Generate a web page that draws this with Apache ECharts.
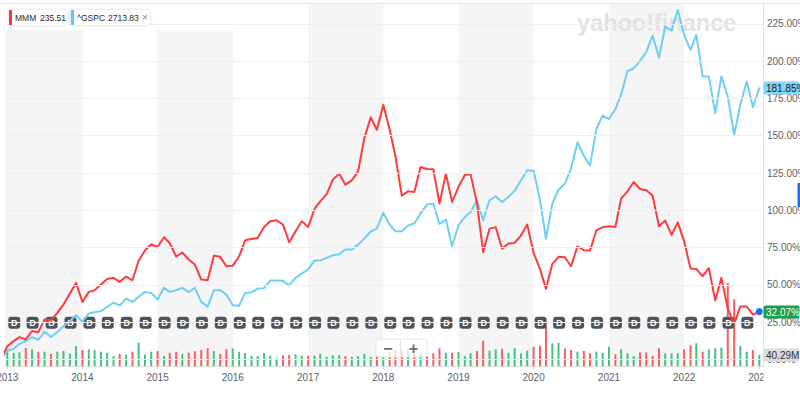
<!DOCTYPE html>
<html><head><meta charset="utf-8">
<script src="https://cdn.jsdelivr.net/npm/echarts@6/dist/echarts.min.js"></script>
<style>html,body{margin:0;padding:0;background:#fff}#c{width:800px;height:393px}</style>
</head><body><div id="c"></div>
<script>
// ---- data (monthly, first entry = base month Dec 2012) ----
const baseYear = 2012, baseMonth = 12;
const mmmPct = [0,
8.9,12.3,15.0,13.4,19.0,18.3,26.8,26.3,31.2,36.8,44.2,51.3,
38.6,45.3,46.4,50.2,54.0,54.7,52.0,55.6,53.1,66.3,73.0,77.2,
75.4,81.9,77.9,69.0,71.7,67.0,63.6,53.6,53.1,69.6,68.8,62.5,
62.9,69.2,79.9,80.8,81.5,88.8,92.6,93.3,90.4,78.6,85.9,92.6,
88.8,100.9,106.0,110.9,120.5,124.6,117.2,120.1,126.1,148.5,162.3,154.0,
170.8,154.0,136.2,109.8,112.7,112.3,129.0,127.7,127.5,104.5,124.6,105.6,
115.6,123.7,124.1,104.9,71.9,87.7,88.6,74.3,77.7,78.1,83.2,90.4,
71.4,60.7,47.3,64.1,68.8,68.5,62.5,75.9,73.2,73.0,86.6,88.6,
89.3,88.8,107.8,112.7,119.0,114.3,113.4,109.8,89.3,93.1,83.5,91.9,
79.2,60.9,60.7,55.8,61.2,39.5,54.7,34.0,24.0,35.5,35.5,30.0,
32.07];
const gspcPct = [0,
5.8,7.1,10.5,12.3,15.0,13.2,18.5,15.0,18.3,22.3,25.7,29.7,
25.2,30.8,31.7,32.4,35.3,38.0,36.2,40.8,38.6,42.0,45.3,44.6,
40.2,48.0,45.3,46.4,48.0,45.1,48.0,38.6,35.3,46.4,46.4,43.5,
36.4,36.0,44.6,45.1,47.5,47.8,52.9,52.9,52.7,49.6,54.7,57.6,
60.3,66.3,66.3,68.1,69.8,70.5,73.7,73.7,77.0,81.0,85.9,87.7,
98.4,90.4,85.9,85.9,89.9,91.1,97.8,103.8,104.5,90.9,93.8,75.9,
89.9,95.5,98.9,106.5,93.3,106.7,109.4,105.6,108.9,113.2,120.1,126.8,
126.6,107.1,81.0,104.5,113.8,117.9,128.0,145.5,136.6,130.1,154.5,163.4,
161.2,167.9,177.5,193.5,195.1,200.2,206.0,217.2,202.4,223.2,220.5,234.4,
217.6,207.6,217.6,189.7,189.7,165.2,189.7,176.3,150.7,170.8,186.4,169.2,
181.85];
// volume in millions, Jan 2013 .. Jan 2023
const volumeM = [61.1,48.7,50.1,65.9,61.1,52.3,52.3,43.9,52.3,54.9,45.0,73.2,
58.6,61.1,58.6,52.3,48.7,36.6,43.9,41.4,52.3,85.3,41.4,52.3,
54.9,36.6,48.7,52.3,43.9,48.7,54.2,58.6,64.8,54.9,43.9,61.5,
64.1,52.3,47.6,37.3,36.6,47.6,37.3,28.2,38.4,40.3,43.2,37.7,
37.7,37.7,44.7,34.0,38.8,40.3,36.6,34.0,36.6,44.7,34.0,35.5,
32.9,51.2,58.6,62.2,62.2,58.6,46.5,36.6,46.5,64.8,48.7,48.7,
51.2,36.6,46.5,54.9,93.3,56.0,61.1,63.3,48.7,64.8,46.5,56.0,
70.6,74.3,146.4,83.1,85.3,64.8,58.6,52.3,54.9,46.5,52.3,48.7,
70.6,42.8,61.1,46.5,36.6,50.1,50.1,36.6,64.8,46.5,46.5,46.5,
61.1,75.8,83.1,52.3,61.1,64.8,67.0,304.9,244.1,73.2,52.3,58.6,
40.29];
const volumeUp = [1,1,1,0,1,0,1,0,1,1,1,1,
0,1,1,1,1,1,0,1,0,1,1,1,
0,1,0,0,1,0,0,0,0,1,0,0,
1,1,1,1,1,1,1,1,0,0,1,1,
0,1,1,1,1,1,0,1,1,1,1,0,
1,0,0,0,1,0,1,0,0,0,1,0,
1,1,1,0,0,1,1,0,1,1,1,1,
0,0,0,1,1,0,0,1,0,0,1,1,
1,0,1,1,1,0,0,0,0,1,1,1,
0,0,1,0,1,1,1,0,0,1,1,0,
1];
const dividendMonths = ['2013-02','2013-05','2013-08','2013-11','2014-02','2014-05','2014-08','2014-11',
'2015-02','2015-05','2015-08','2015-11','2016-02','2016-05','2016-08','2016-11',
'2017-02','2017-05','2017-08','2017-11','2018-02','2018-05','2018-08','2018-11',
'2019-02','2019-05','2019-08','2019-11','2020-02','2020-05','2020-08','2020-11',
'2021-02','2021-05','2021-08','2021-11','2022-02','2022-05','2022-08','2022-11'];
const yTickValues = [0,25,50,75,100,125,150,175,200,225];
const yearLabels = [2013,2014,2015,2016,2017,2018,2019,2020,2021,2022,2023];
const shadedYears = [2013,2015,2017,2019,2021];
const legendItems = [{name:'MMM', quote:'235.51', color:'#ff333a'},{name:'^GSPC', quote:'2713.83', color:'#5ccbf5'}];
const lastVolumeText = '40.29M';
const dividendLevel = 24.6;

// ---- layout constants ----
const FONT = '"Liberation Sans", Arial, sans-serif';
const axisMin = new Date(2012, 11, 21).getTime();
const axisMax = new Date(2023, 0, 19).getTime();
const monthDate = i => new Date(baseYear, baseMonth - 1 + i, 1).getTime();
const yearTs = yearLabels.map(y => new Date(y, 0, 1).getTime());
const RED = '#ff3b3f', BLUE = '#6dcff6', VG = '#40c47f', VR = '#fb5c60';

const bands = shadedYears.map(y => [
  {xAxis: y === yearLabels[0] ? axisMin : new Date(y,0,1).getTime()},
  {xAxis: new Date(y+1,0,1).getTime()}
]);

const option = {
  animation: false,
  textStyle: {fontFamily: FONT},
  grid: {left: 5, right: 37, top: 3, bottom: 27, containLabel: false, outerBoundsMode: 'none'},
  xAxis: {
    type: 'value', min: axisMin, max: axisMax, scale: true,
    axisLine: {show: true, onZero: false, lineStyle: {color: '#dedede'}},
    axisTick: {show: true, customValues: yearTs, length: 3, lineStyle: {color: '#cfcfcf'}},
    axisLabel: {customValues: yearTs, formatter: v => String(new Date(v).getFullYear()), color: '#5b636a', fontSize: 10, margin: 6, fontFamily: FONT},
    splitLine: {show: false}
  },
  yAxis: [
    {type: 'value', position: 'right', min: -4.4, max: 239,
     axisLine: {show: true, onZero: false, lineStyle: {color: '#e4e4e4'}},
     axisTick: {show: false}, axisLabel: {show: false}, splitLine: {show: false}},
    {type: 'value', min: 0, max: 1330, show: false, splitLine: {show: false}}
  ],
  series: [
    {type: 'line', name: 'bands', data: [], z: 1, silent: true,
     markArea: {silent: true, itemStyle: {color: '#f5f5f5'}, data: bands},
     markLine: {silent: true, symbol: ['none','none'],
       lineStyle: {color: '#efefef', width: 1, type: 'solid'},
       label: {show: true, position: 'end', distance: 4, color: '#5b636a', fontSize: 10, fontFamily: FONT,
               formatter: p => Number(p.value).toFixed(2) + '%'},
       emphasis: {disabled: true},
       data: yTickValues.map(v => ({yAxis: v}))}
    },
    {type: 'bar', name: 'volume', yAxisIndex: 1, barWidth: 2, z: 2, silent: true,
     data: volumeM.map((v, i) => ({value: [monthDate(i + 1), v], itemStyle: {color: volumeUp[i] ? VG : VR}}))},
    {type: 'scatter', name: 'div', z: 2, silent: true, symbol: 'roundRect', symbolSize: [12, 12],
     itemStyle: {color: '#4f5459', opacity: 1},
     label: {show: true, position: 'inside', formatter: 'D', color: '#ffffff', fontSize: 9, fontWeight: 'bold', fontFamily: FONT},
     data: dividendMonths.map(s => { const [y, m] = s.split('-').map(Number); return [new Date(y, m - 1, 4).getTime(), dividendLevel]; })},
    {type: 'line', name: '^GSPC', z: 3, silent: true, symbol: 'none', smooth: false, connectNulls: true,
     lineStyle: {color: BLUE, width: 2, join: 'round', cap: 'round'},
     data: gspcPct.map((v, i) => [monthDate(i), v])},
    {type: 'line', name: 'MMM', z: 4, silent: true, symbol: 'none', smooth: false, connectNulls: true,
     lineStyle: {color: RED, width: 2, join: 'round', cap: 'round'},
     data: mmmPct.map((v, i) => [monthDate(i), v])},
    {type: 'scatter', name: 'last', z: 5, silent: true, symbolSize: 7, itemStyle: {color: '#1a6ff0', opacity: 1},
     data: [[monthDate(mmmPct.length - 1), mmmPct[mmmPct.length - 1]]]}
  ]
};

const chart = echarts.init(document.getElementById('c'), null, {renderer: 'svg'});
chart.setOption(option);

const li = mmmPct.length - 1;
const pM = chart.convertToPixel({seriesIndex: 4}, [monthDate(li), mmmPct[li]]);
const pG = chart.convertToPixel({seriesIndex: 3}, [monthDate(li), gspcPct[li]]);
const pV = chart.convertToPixel({seriesIndex: 1}, [monthDate(li), volumeM[volumeM.length - 1]]);

function tag(y, text, bg, fg) {
  return [
    {type: 'rect', z: 30, shape: {x: 763.5, y: Math.round(y) - 6.5, width: 36, height: 13, r: 2}, style: {fill: bg}},
    {type: 'text', z: 31, style: {x: 766, y: Math.round(y), text, fill: fg, fontSize: 10, fontFamily: FONT, verticalAlign: 'middle', align: 'left'}}
  ];
}

const g = [];
g.push({type: 'line', z: 20, shape: {x1: 0, y1: 3.5, x2: 800, y2: 3.5}, style: {stroke: '#e6e6e6', lineWidth: 1}});
g.push({type: 'rect', z: 2, shape: {x: 0, y: 4, width: 235, height: 26}, style: {fill: '#ffffff'}});
g.push({type: 'text', z: 2, style: {x: 577, y: 23, text: 'yahoo!finance', fill: '#e2e2e5', fontSize: 23.5, fontWeight: 'bold', fontFamily: FONT, verticalAlign: 'middle'}});
const boxes = [{x: 9, w: 59, q: 40}, {x: 71, w: 79, q: 108}];
legendItems.forEach((it, i) => {
  const b = boxes[i];
  g.push({type: 'rect', z: 21, shape: {x: b.x, y: 10, width: b.w, height: 15, r: 1}, style: {fill: '#fff', shadowBlur: 3, shadowColor: 'rgba(0,0,0,0.18)'}});
  g.push({type: 'rect', z: 22, shape: {x: b.x, y: 10, width: 3, height: 15}, style: {fill: it.color}});
  g.push({type: 'text', z: 22, style: {x: b.x + 6, y: 17.5, text: it.name, fill: '#232a31', fontSize: 8.5, fontFamily: FONT, verticalAlign: 'middle'}});
  g.push({type: 'text', z: 22, style: {x: b.q, y: 17.5, text: it.quote, fill: '#232a31', fontSize: 8.5, fontFamily: FONT, verticalAlign: 'middle'}});
});
g.push({type: 'text', z: 22, style: {x: 142, y: 17.5, text: '×', fill: '#8a8f94', fontSize: 10, fontFamily: FONT, verticalAlign: 'middle'}});
g.push({type: 'rect', z: 25, shape: {x: 763.5, y: 367, width: 37, height: 26}, style: {fill: '#ffffff'}});
g.push(...tag(pG[1], gspcPct[li].toFixed(2) + '%', '#86d4f6', '#10202b'));
g.push(...tag(pM[1], mmmPct[li].toFixed(2) + '%', '#1e9f50', '#ffffff'));
g.push(...tag(pV[1], lastVolumeText, '#dcdcdc', '#333333'));
g.push({type: 'rect', z: 30, shape: {x: 797.5, y: 183, width: 3, height: 24}, style: {fill: '#1a6ff0'}});
g.push({type: 'rect', z: 26, shape: {x: 376, y: 339, width: 51, height: 18, r: 2}, style: {fill: 'rgba(255,255,255,0.75)', stroke: 'rgba(225,225,225,0.8)', lineWidth: 1}});
g.push({type: 'line', z: 27, shape: {x1: 400.5, y1: 340, x2: 400.5, y2: 356}, style: {stroke: '#e3e3e3', lineWidth: 1}});
g.push({type: 'text', z: 27, style: {x: 388, y: 348, text: '−', fill: '#6b6f73', fontSize: 16, fontWeight: 'bold', fontFamily: FONT, align: 'center', verticalAlign: 'middle'}});
g.push({type: 'text', z: 27, style: {x: 413.5, y: 348, text: '+', fill: '#6b6f73', fontSize: 16, fontWeight: 'bold', fontFamily: FONT, align: 'center', verticalAlign: 'middle'}});

chart.setOption({graphic: {elements: g}});
</script>
</body></html>
